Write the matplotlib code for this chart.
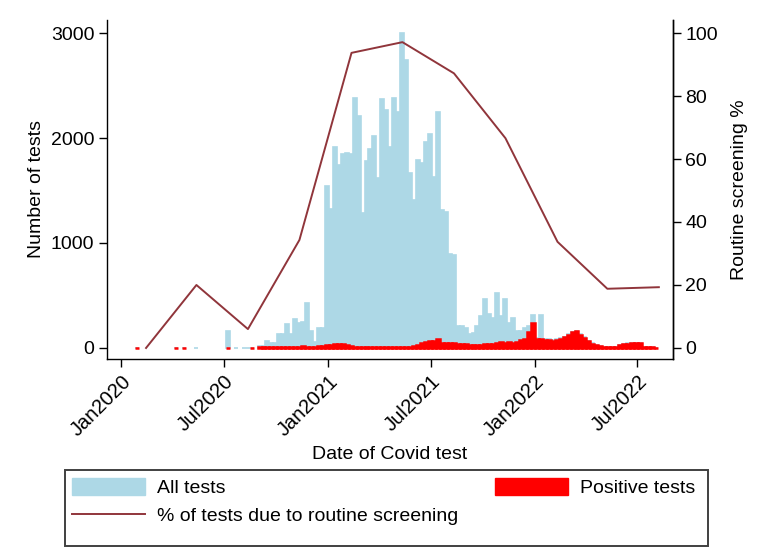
import numpy as np
import pandas as pd
import matplotlib
matplotlib.use("Agg")
import matplotlib.pyplot as plt
from matplotlib.patches import Patch, Rectangle
from matplotlib.lines import Line2D

plt.rcParams['font.family'] = ['Liberation Sans', 'DejaVu Sans']

# weekly counts, first week starts 4 Jan 2020
first_week = '2020-01-04'
all_tests = [0, 0, 0, 2, 0, 0, 0, 0, 0, 0,
             0, 0, 0, 1, 0, 1, 0, 0, 2, 0,
             0, 0, 0, 0, 0, 0, 165, 0, 2, 0,
             2, 2, 2, 0, 15, 20, 65, 50, 50, 130,
             130, 228, 132, 280, 241, 245, 425, 160, 55, 188,
             188, 1540, 1320, 1917, 1743, 1845, 1854, 1845, 2378, 2213,
             1283, 1780, 1900, 2019, 1616, 2368, 2267, 1917, 2378, 2251,
             2997, 2743, 1663, 1410, 1790, 1765, 1965, 2038, 1632, 2244,
             1314, 1298, 895, 890, 210, 208, 190, 130, 140, 210,
             300, 463, 320, 290, 521, 300, 465, 240, 290, 165,
             165, 187, 210, 314, 92, 314, 85, 85, 72, 85,
             92, 105, 130, 155, 165, 130, 100, 70, 45, 30,
             18, 12, 10, 7, 12, 28, 40, 50, 52, 50,
             52, 14, 12, 12, 3]
positive_tests = [0, 0, 0, 2, 0, 0, 0, 0, 0, 0,
                  0, 0, 0, 1, 0, 1, 0, 0, 0, 0,
                  0, 0, 0, 0, 0, 0, 2, 0, 0, 0,
                  0, 0, 2, 0, 8, 8, 10, 10, 12, 10,
                  12, 12, 10, 14, 12, 15, 14, 12, 12, 18,
                  22, 28, 32, 38, 34, 35, 25, 18, 12, 10,
                  12, 10, 12, 10, 12, 10, 12, 10, 8, 10,
                  8, 10, 12, 15, 25, 50, 60, 65, 70, 85,
                  45, 45, 50, 45, 40, 40, 38, 30, 30, 32,
                  30, 35, 35, 40, 50, 55, 50, 55, 50, 55,
                  80, 85, 155, 235, 90, 85, 80, 78, 65, 80,
                  85, 100, 125, 150, 160, 125, 95, 65, 40, 25,
                  15, 10, 8, 5, 10, 25, 35, 42, 44, 44,
                  45, 12, 10, 10, 2]

# quarterly share of tests due to routine screening (%)
quarter_dates = ['2020-02-14', '2020-05-13', '2020-08-12', '2020-11-11',
                 '2021-02-11', '2021-05-12', '2021-08-11', '2021-11-10',
                 '2022-02-10', '2022-05-09', '2022-08-08']
routine_pct = [0, 20, 6, 34.3, 93.7, 97.1, 87.2, 66.6, 33.7, 18.8, 19.3]

tick_dates = ['2020-01-01', '2020-07-01', '2021-01-01', '2021-07-01', '2022-01-01', '2022-07-01']
tick_labels = ['Jan2020', 'Jul2020', 'Jan2021', 'Jul2021', 'Jan2022', 'Jul2022']

weeks = pd.date_range(first_week, periods=len(all_tests), freq='7D')
all_tests = np.array(all_tests, dtype=float)
positive_tests = np.array(positive_tests, dtype=float)

blue = '#ADD8E6'
red = '#FF0000'
maroon = '#90353B'
fs = 14

fig = plt.figure(figsize=(7.69, 5.59), dpi=100)
ax = fig.add_axes([107/769, 1 - 359/559, 566/769, 339/559])
ax2 = ax.twinx()

mask = all_tests > 0
ax.bar(weeks[mask], all_tests[mask], width=7, align='edge', color=blue,
       edgecolor=blue, linewidth=1.2, zorder=2)
mask = positive_tests > 0
ax.bar(weeks[mask], positive_tests[mask], width=7, align='edge', color=red,
       edgecolor=red, linewidth=1.8, zorder=3)

ax2.plot(pd.to_datetime(quarter_dates), routine_pct, color=maroon, lw=1.4, zorder=4)

ax.set_ylim(-105, 3124)
ax2.set_ylim(-105/30, 3124/30)
ax.set_xlim(pd.Timestamp('2019-12-07'), pd.Timestamp('2022-09-02'))

ax.set_yticks([0, 1000, 2000, 3000])
ax2.set_yticks([0, 20, 40, 60, 80, 100])
ax.set_xticks(pd.to_datetime(tick_dates))
ax.set_xticklabels(tick_labels, rotation=45, ha='right', rotation_mode='anchor')

for a in (ax, ax2):
    a.spines['top'].set_visible(False)
    for s in a.spines.values():
        s.set_linewidth(1.0)
    a.tick_params(labelsize=fs, length=6, width=1.0, pad=3)
ax2.spines['left'].set_visible(False)
ax2.spines['bottom'].set_visible(False)
ax.tick_params(axis='x', labelsize=14.5)

ax.set_ylabel('Number of tests', fontsize=fs, labelpad=4)
ax2.set_ylabel('Routine screening %', fontsize=fs, labelpad=9)
ax.set_xlabel('Date of Covid test', fontsize=fs, labelpad=5)

# legend box drawn separately so its size matches the original
fig.patches.append(Rectangle((65/769, 1 - 546/559), 643/769, 76/559,
                             transform=fig.transFigure, fill=False,
                             edgecolor='#404040', linewidth=1.4))

leg1 = fig.legend([Patch(facecolor=blue, edgecolor=blue), Line2D([], [], color=maroon, lw=1.4)],
                  ['All tests', '% of tests due to routine screening'],
                  loc='upper left', bbox_to_anchor=(72/769, 1 - 478/559),
                  fontsize=fs, frameon=False, handlelength=3.75, handleheight=1.0,
                  handletextpad=0.6, borderpad=0, borderaxespad=0, labelspacing=0.44)
leg2 = fig.legend([Patch(facecolor=red, edgecolor=red)], ['Positive tests'],
                  loc='upper left', bbox_to_anchor=(495/769, 1 - 478/559),
                  fontsize=fs, frameon=False, handlelength=3.75, handleheight=1.0,
                  handletextpad=0.6, borderpad=0, borderaxespad=0)

fig.savefig('out.png', dpi=100)
